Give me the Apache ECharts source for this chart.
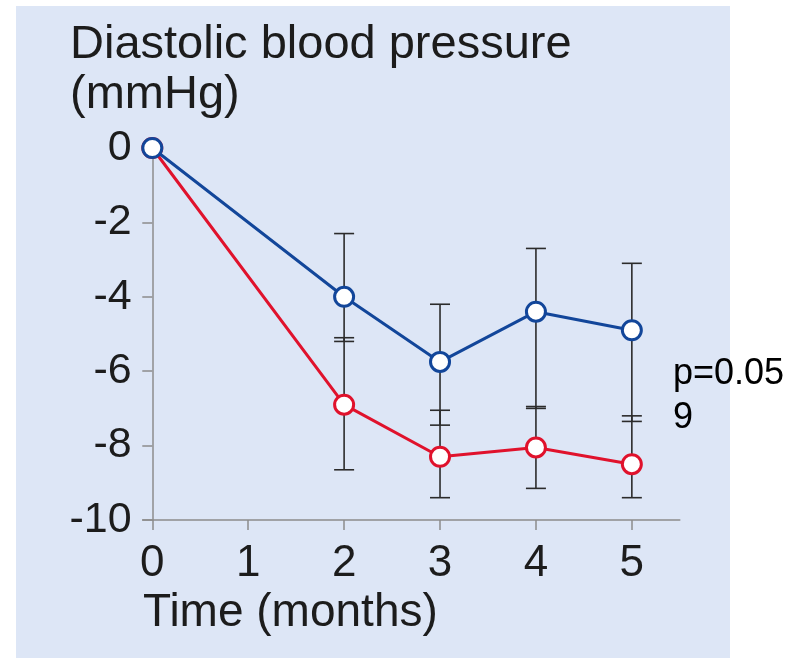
<!DOCTYPE html>
<html>
<head>
<meta charset="utf-8">
<script src="https://cdn.jsdelivr.net/npm/echarts@6/dist/echarts.min.js"></script>
<style>
  html, body { margin: 0; padding: 0; background: #fff; }
  #chart { width: 798px; height: 658px; }
</style>
</head>
<body>
<div id="chart"></div>
<script>
  // data
  const months = [0, 2, 3, 4, 5];
  const blueMean = [0, -4.0, -5.75, -4.4, -4.9];
  const redMean = [0, -6.9, -8.3, -8.05, -8.5];
  const blueHigh = [null, -2.3, -4.2, -2.7, -3.1];
  const blueLow = [null, -5.2, -7.45, -7.0, -7.35];
  const redHigh = [null, -5.1, -7.05, -6.95, -7.2];
  const redLow = [null, -8.65, -9.4, -9.15, -9.4];
  const xTicks = [0, 1, 2, 3, 4, 5];

  const FONT = '"Liberation Sans", Arial, sans-serif';
  const TEXT = '#1c1c1c';
  const AXIS = '#8c8c8c';

  function pairs(ys) {
    return months.map((m, i) => [m, ys[i]]);
  }

  const errData = [];
  months.forEach((m, i) => {
    if (blueHigh[i] != null) errData.push([m, blueLow[i], blueHigh[i]]);
    if (redHigh[i] != null) errData.push([m, redLow[i], redHigh[i]]);
  });

  function renderErr(params, api) {
    const x = api.value(0);
    const lo = api.coord([x, api.value(1)]);
    const hi = api.coord([x, api.value(2)]);
    const hw = 10;
    const style = { stroke: '#2b2b2b', lineWidth: 1.6 };
    return {
      type: 'group',
      children: [
        { type: 'line', shape: { x1: lo[0], y1: lo[1], x2: hi[0], y2: hi[1] }, style },
        { type: 'line', shape: { x1: lo[0] - hw, y1: lo[1], x2: lo[0] + hw, y2: lo[1] }, style },
        { type: 'line', shape: { x1: hi[0] - hw, y1: hi[1], x2: hi[0] + hw, y2: hi[1] }, style }
      ]
    };
  }

  const chart = echarts.init(document.getElementById('chart'));
  chart.setOption({
    backgroundColor: '#ffffff',
    animation: false,
    grid: { left: 142.7, right: 118.2, top: 148, bottom: 138 },
    xAxis: {
      type: 'value',
      min: -0.1,
      max: 5.5,
      axisLine: { onZero: false, lineStyle: { color: AXIS, width: 1.5 } },
      axisTick: { length: 10, customValues: xTicks, lineStyle: { color: AXIS, width: 1.5 } },
      axisLabel: { customValues: xTicks, margin: 22, fontSize: 44, fontFamily: FONT, color: TEXT },
      splitLine: { show: false }
    },
    yAxis: {
      type: 'value',
      min: -10,
      max: 0,
      interval: 2,
      axisLine: { onZero: true, lineStyle: { color: AXIS, width: 1.5 } },
      axisTick: { length: 10, lineStyle: { color: AXIS, width: 1.5 } },
      axisLabel: { margin: 11, fontSize: 43, fontFamily: FONT, color: TEXT },
      splitLine: { show: false }
    },
    graphic: {
      elements: [
        { type: 'rect', z: -10, silent: true, shape: { x: 16, y: 6, width: 714, height: 652 }, style: { fill: '#dde6f6' } },
        { type: 'text', z: 100, left: 70, top: 22, style: { text: 'Diastolic blood pressure', font: '47px ' + FONT, fill: TEXT } },
        { type: 'text', z: 100, left: 70, top: 72, style: { text: '(mmHg)', font: '47px ' + FONT, fill: TEXT } },
        { type: 'text', z: 100, left: 143, top: 590, style: { text: 'Time (months)', font: '46px ' + FONT, fill: TEXT } },
        { type: 'text', z: 100, left: 673, top: 352, style: { text: 'p=0.05\n9', font: '36px ' + FONT, fill: '#000', lineHeight: 44 } }
      ]
    },
    series: [
      {
        type: 'custom',
        z: 1,
        renderItem: renderErr,
        data: errData,
        encode: { x: 0, y: [1, 2] }
      },
      {
        type: 'line',
        z: 3,
        clip: false,
        data: pairs(redMean),
        symbol: 'circle',
        symbolSize: 19,
        lineStyle: { color: '#e0122c', width: 3 },
        itemStyle: { color: '#ffffff', borderColor: '#e0122c', borderWidth: 3 }
      },
      {
        type: 'line',
        z: 4,
        clip: false,
        data: pairs(blueMean),
        symbol: 'circle',
        symbolSize: 19,
        lineStyle: { color: '#12469a', width: 3 },
        itemStyle: { color: '#ffffff', borderColor: '#12469a', borderWidth: 3 }
      }
    ]
  });
</script>
</body>
</html>
